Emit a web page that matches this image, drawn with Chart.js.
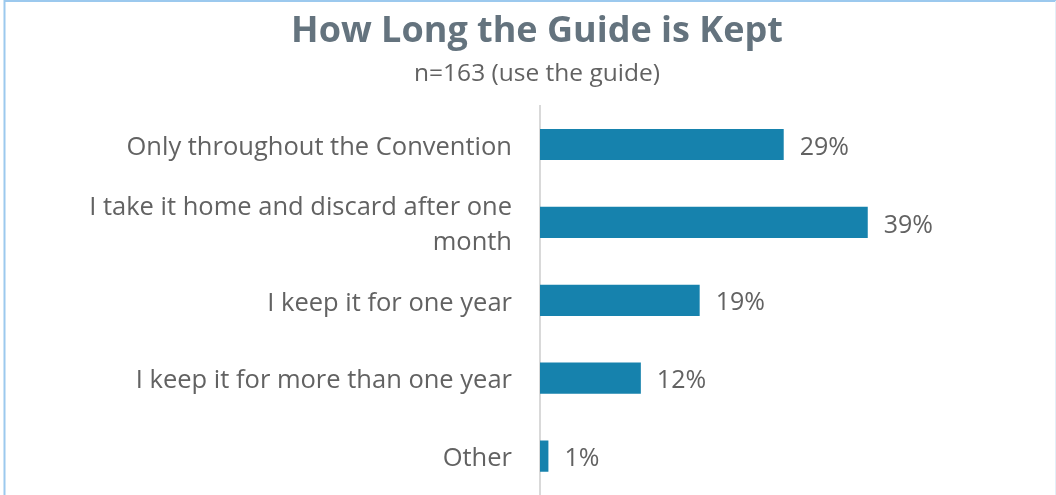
<!DOCTYPE html>
<html>
<head>
<meta charset="utf-8">
<script src="https://cdn.jsdelivr.net/npm/chart.js@4"></script>
<style>
  html, body { margin: 0; padding: 0; background: #fff; overflow: hidden; }
  #wrap { position: relative; width: 1056px; height: 495px; }
</style>
</head>
<body>
<div id="wrap"><canvas id="myChart" width="1056" height="495"></canvas></div>
<script>
var categories = [
  "Only throughout the Convention",
  ["I take it home and discard after one", "month"],
  "I keep it for one year",
  "I keep it for more than one year",
  "Other"
];
var shares = [29, 39, 19, 12, 1];

var FONT = "'Open Sans', 'DejaVu Sans', sans-serif";
var TEXT = "#626262";

// value labels at the end of each bar
var barLabels = {
  id: "barLabels",
  afterDatasetsDraw: function (chart) {
    var ctx = chart.ctx;
    var meta = chart.getDatasetMeta(0);
    ctx.save();
    ctx.font = "25px " + FONT;
    ctx.fillStyle = TEXT;
    ctx.textAlign = "left";
    ctx.textBaseline = "middle";
    meta.data.forEach(function (bar, i) {
      ctx.fillText(shares[i] + "%", bar.x + 16, bar.y + 3);
    });
    ctx.restore();
  }
};

// thin frame round the chart
var frame = {
  id: "frame",
  beforeDraw: function (chart) {
    var ctx = chart.ctx;
    ctx.save();
    ctx.strokeStyle = "#9cc9ee";
    ctx.lineWidth = 2;
    ctx.beginPath();
    ctx.moveTo(4.5, 495);
    ctx.lineTo(4.5, 1);
    ctx.lineTo(1056, 1);
    ctx.stroke();
    ctx.strokeStyle = "#e3eef7";
    ctx.lineWidth = 1;
    ctx.beginPath();
    ctx.moveTo(1055.5, 1);
    ctx.lineTo(1055.5, 495);
    ctx.stroke();
    ctx.restore();
  }
};

new Chart("myChart", {
  type: "bar",
  data: {
    labels: categories,
    datasets: [{
      data: shares,
      backgroundColor: "#1682ad",
      borderWidth: 0,
      barPercentage: 0.8,
      categoryPercentage: 0.5
    }]
  },
  options: {
    indexAxis: "y",
    responsive: false,
    devicePixelRatio: 1,
    animation: false,
    layout: { padding: { left: 18, right: 0, top: 4, bottom: -2 } },
    plugins: {
      legend: { display: false },
      tooltip: { enabled: false },
      title: {
        display: true,
        text: "How Long the Guide is Kept",
        color: "#64737e",
        font: { family: FONT, size: 36, weight: "bold", lineHeight: 1.2 },
        padding: { top: 6, bottom: 6 }
      },
      subtitle: {
        display: true,
        text: "n=163 (use the guide)",
        color: TEXT,
        font: { family: FONT, size: 24.5, lineHeight: 1.2 },
        padding: { top: 0, bottom: 17 }
      }
    },
    scales: {
      x: {
        display: false,
        min: 0,
        max: 61.4,
        grid: { display: false }
      },
      y: {
        grid: { display: false, drawTicks: false },
        border: { display: true, color: "#d9d9d9", width: 2 },
        ticks: {
          color: TEXT,
          font: { family: FONT, size: 25.5, lineHeight: 1.35 },
          padding: 28,
          labelOffset: 3
        },
        afterFit: function (scale) {
          // fixed label column; no extra room above/below the bars
          scale.width = 522;
          scale.paddingTop = 0;
          scale.paddingBottom = 0;
        }
      }
    }
  },
  plugins: [frame, barLabels]
});
</script>
</body>
</html>
